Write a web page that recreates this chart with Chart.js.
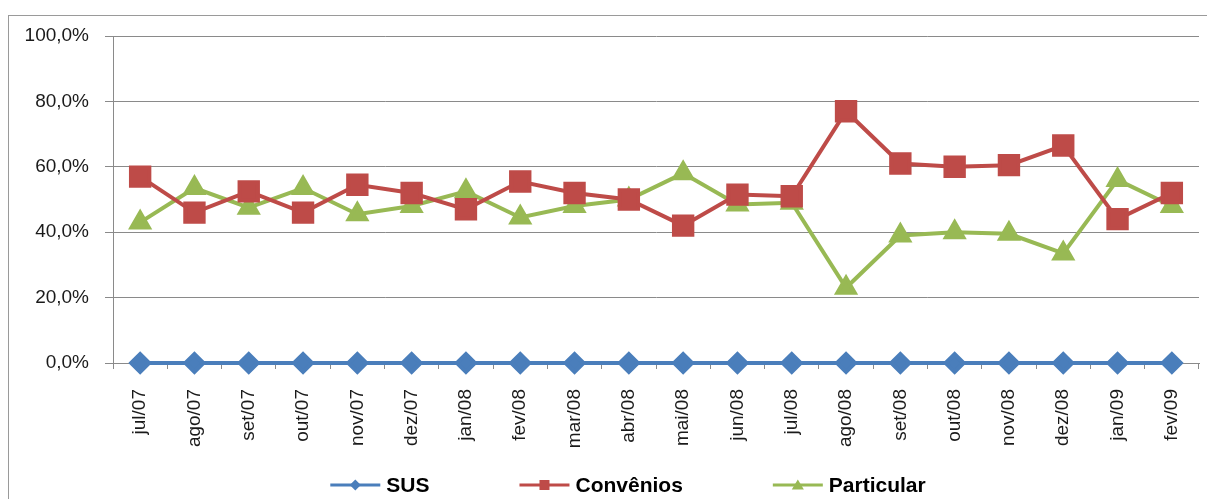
<!DOCTYPE html>
<html lang="pt-BR">
<head>
<meta charset="utf-8">
<title>SUS / Convênios / Particular</title>
<script src="https://cdn.jsdelivr.net/npm/chart.js@4/dist/chart.umd.min.js"></script>
<style>
  html, body { margin: 0; padding: 0; background: #fff; }
  canvas { display: block; }
</style>
</head>
<body>
<canvas id="grafico" width="1207" height="499"></canvas>
<script>
// meses do periodo
const meses = ['jul/07', 'ago/07', 'set/07', 'out/07', 'nov/07', 'dez/07', 'jan/08', 'fev/08', 'mar/08', 'abr/08',
               'mai/08', 'jun/08', 'jul/08', 'ago/08', 'set/08', 'out/08', 'nov/08', 'dez/08', 'jan/09', 'fev/09'];

// percentuais por tipo de atendimento
const sus        = [0, 0, 0, 0, 0, 0, 0, 0, 0, 0, 0, 0, 0, 0, 0, 0, 0, 0, 0, 0];
const convenios  = [57, 46, 52.5, 46, 54.5, 52, 47, 55.5, 52, 50, 42, 51.5, 51, 77, 61, 60, 60.5, 66.5, 44, 52];
const particular = [43, 53.5, 47.5, 53.5, 45.5, 48, 52.5, 44.5, 48, 50, 58, 48.5, 49, 23, 39, 40, 39.5, 33.5, 56, 48];

// eixo y
const eixoMin = 0;
const eixoMax = 100;
const eixoPasso = 20;

const FONTE = '"Liberation Sans", Arial, sans-serif';
const CINZA = '#8a8a8a';

// desenha um marcador simples (losango, quadrado, triangulo)
function marcador(ctx, tipo, x, y, r) {
    ctx.beginPath();
    if (tipo === 'rectRot') {
        ctx.moveTo(x - r, y);
        ctx.lineTo(x, y - r);
        ctx.lineTo(x + r, y);
        ctx.lineTo(x, y + r);
    } else if (tipo === 'rect') {
        ctx.rect(x - r, y - r, r * 2, r * 2);
    } else {
        ctx.moveTo(x, y - r);
        ctx.lineTo(x + r * 1.1, y + r * 0.8);
        ctx.lineTo(x - r * 1.1, y + r * 0.8);
    }
    ctx.closePath();
    ctx.fill();
}

// moldura externa do grafico
const moldura = {
    id: 'moldura',
    beforeDraw(chart) {
        const ctx = chart.ctx;
        ctx.save();
        ctx.fillStyle = '#fff';
        ctx.fillRect(0, 0, chart.width, chart.height);
        ctx.strokeStyle = '#9a9a9a';
        ctx.lineWidth = 1;
        ctx.strokeRect(8.5, 15.5, chart.width + 20, chart.height + 20);
        ctx.restore();
    }
};

// legenda no estilo linha + marcador
const legenda = {
    id: 'legenda',
    afterDraw(chart, args, opts) {
        const ctx = chart.ctx;
        const linha = 50, folga = 6, espaco = opts.espaco;
        ctx.save();
        ctx.font = 'bold 21px ' + FONTE;
        ctx.textBaseline = 'middle';
        const itens = chart.data.datasets.map(ds => ({ ds, w: linha + folga + ctx.measureText(ds.label).width }));
        const total = itens.reduce((s, it) => s + it.w, 0) + espaco * (itens.length - 1);
        let x = opts.centro - total / 2;
        const y = opts.y;
        itens.forEach(({ ds, w }) => {
            ctx.strokeStyle = ds.borderColor;
            ctx.lineWidth = 3;
            ctx.beginPath();
            ctx.moveTo(x, y);
            ctx.lineTo(x + linha, y);
            ctx.stroke();
            ctx.fillStyle = ds.pointBackgroundColor;
            marcador(ctx, ds.pointStyle, x + linha / 2, y, ds.pointStyle === 'rect' ? 5 : 5.5);
            ctx.fillStyle = '#000';
            ctx.fillText(ds.label, x + linha + folga, y + 1);
            x += w + espaco;
        });
        ctx.restore();
    }
};

document.addEventListener('DOMContentLoaded', function() {
    const ctx = document.getElementById('grafico').getContext('2d');
    new Chart(ctx, {
        type: 'line',
        data: {
            labels: meses,
            datasets: [{
                label: 'SUS',
                data: sus,
                borderColor: '#4a7ebb',
                pointBackgroundColor: '#4a7ebb',
                pointBorderColor: '#4a7ebb',
                pointStyle: 'rectRot',
                pointRadius: 9,
                borderWidth: 4,
                clip: false
            }, {
                label: 'Convênios',
                data: convenios,
                borderColor: '#be4b48',
                pointBackgroundColor: '#be4b48',
                pointBorderColor: '#be4b48',
                pointStyle: 'rect',
                pointRadius: 13,
                borderWidth: 4,
                clip: false
            }, {
                label: 'Particular',
                data: particular,
                borderColor: '#98b954',
                pointBackgroundColor: '#98b954',
                pointBorderColor: '#98b954',
                pointStyle: 'triangle',
                pointRadius: 10,
                borderWidth: 4,
                clip: false
            }]
        },
        options: {
            responsive: false,
            animation: false,
            devicePixelRatio: 1,
            layout: { autoPadding: false, padding: { top: 36, right: 8, left: 0, bottom: 0 } },
            plugins: {
                legend: { display: false },
                tooltip: { enabled: false },
                legenda: { centro: 628, y: 485, espaco: 90 }
            },
            scales: {
                x: {
                    offset: true,
                    afterFit: s => { s.height = 136; s.paddingLeft = 0; s.paddingRight = 0; },
                    grid: { offset: true, drawOnChartArea: false, color: CINZA, tickLength: 6 },
                    border: { color: CINZA },
                    ticks: {
                        autoSkip: false,
                        minRotation: 90,
                        maxRotation: 90,
                        padding: 20,
                        color: '#1a1a1a',
                        font: { family: FONTE, size: 19 }
                    }
                },
                y: {
                    min: eixoMin,
                    max: eixoMax,
                    afterFit: s => { s.width = 113; s.paddingTop = 0; s.paddingBottom = 0; },
                    grid: { color: CINZA, tickLength: 8 },
                    border: { color: CINZA },
                    ticks: {
                        stepSize: eixoPasso,
                        padding: 16,
                        color: '#1a1a1a',
                        font: { family: FONTE, size: 19 },
                        callback: v => v.toFixed(1).replace('.', ',') + '%'
                    }
                }
            }
        },
        plugins: [moldura, legenda]
    });
});
</script>
</body>
</html>
